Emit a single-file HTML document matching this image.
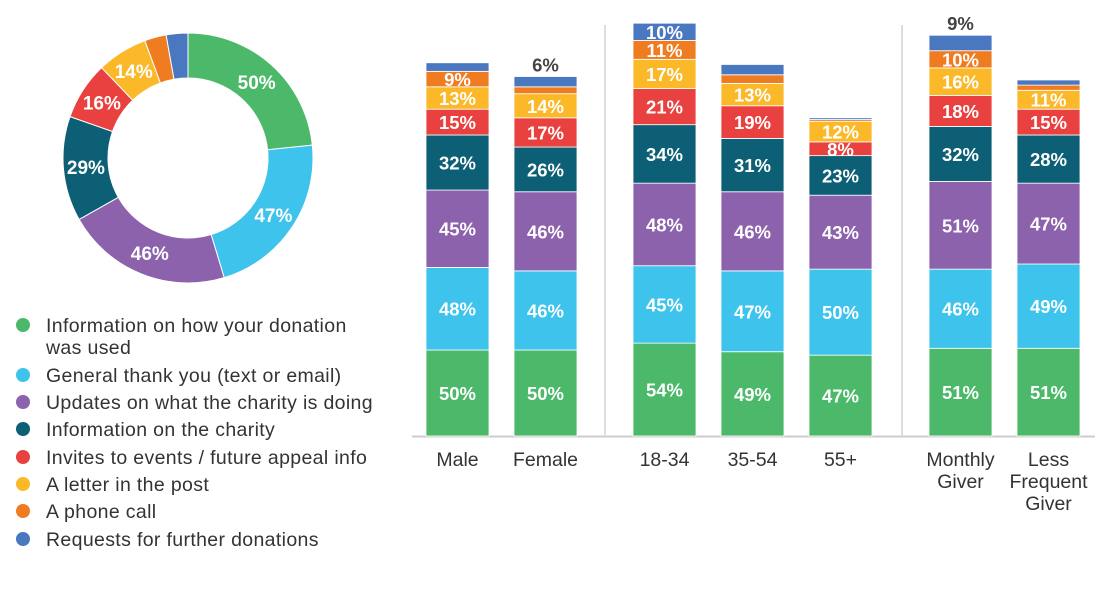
<!DOCTYPE html>
<html><head><meta charset="utf-8"><style>
body{margin:0;background:#fff;width:1103px;height:597px;overflow:hidden;font-family:"Liberation Sans",sans-serif}
svg text{font-family:"Liberation Sans",sans-serif}
</style></head><body>
<svg id="c" width="1103" height="597"></svg>
<script>
const seriesNames=["Information on how your donation|was used","General thank you (text or email)","Updates on what the charity is doing","Information on the charity","Invites to events / future appeal info","A letter in the post","A phone call","Requests for further donations"];
const colors=["#4cb96a","#3ec3ec","#8c62ad","#0d5f75","#e8413f","#fbb829","#f07c22","#4a78c0"];
const donutValues=[50,47,46,29,16,14,6,6];
const donutLabels=["50%","47%","46%","29%","16%","14%","",""];
const categories=["Male","Female","18-34","35-54","55+","Monthly|Giver","Less|Frequent|Giver"];
const green=[50,50,54,49,47,51,51];
const cyan=[48,46,45,47,50,46,49];
const purple=[45,46,48,46,43,51,47];
const teal=[32,26,34,31,23,32,28];
const red=[15,17,21,19,8,18,15];
const yellow=[13,14,17,13,12,16,11];
const orange=[9,4,11,5,1,10,3];
const blue=[5,6,10,6,1,9,3];
const labelShown=[[1,1,1,1,1,1,1,0],[1,1,1,1,1,1,0,2],[1,1,1,1,1,1,1,1],[1,1,1,1,1,1,0,0],[1,1,1,1,1,1,0,0],[1,1,1,1,1,1,1,2],[1,1,1,1,1,1,0,0]];
const series=[green,cyan,purple,teal,red,yellow,orange,blue];

const NS="http://www.w3.org/2000/svg";
const svg=document.getElementById('c');
function mk(t,a,p){const e=document.createElementNS(NS,t);for(const k in a)e.setAttribute(k,a[k]);(p||svg).appendChild(e);return e;}

// donut
const cx=188,cy=158,R=125,r=80;
const tot=donutValues.reduce((a,b)=>a+b,0);
let ang=0;
donutValues.forEach((v,i)=>{
 const a0=ang,a1=ang+v/tot*2*Math.PI;ang=a1;
 const p=(a,rr)=>[cx+rr*Math.sin(a),cy-rr*Math.cos(a)];
 const [x0,y0]=p(a0,R),[x1,y1]=p(a1,R),[x2,y2]=p(a1,r),[x3,y3]=p(a0,r);
 const lg=a1-a0>Math.PI?1:0;
 const s=mk('path',{d:`M${x0},${y0}A${R},${R} 0 ${lg} 1 ${x1},${y1}L${x2},${y2}A${r},${r} 0 ${lg} 0 ${x3},${y3}Z`,fill:colors[i],stroke:'#fff','stroke-width':1});
 
 
 if(donutLabels[i]){const [lx,ly]=p((a0+a1)/2,(R+r)/2);
  const t=mk('text',{x:lx,y:ly+7,'text-anchor':'middle',fill:'#fff','font-size':19,'font-weight':'bold'});t.textContent=donutLabels[i];
  
  }
});

// legend
const legY=[325,375,402,429,457,484,511,539];
seriesNames.forEach((n,i)=>{
 const g=mk('g',{});
 
 
 mk('circle',{cx:23,cy:legY[i],r:7,fill:colors[i]},g);
 n.split('|').forEach((l,j)=>{const t=mk('text',{x:46,y:legY[i]+7+j*22,fill:'#333','font-size':19.5,'textLength':0});t.removeAttribute('textLength');g.appendChild(t);t.setAttribute('style','letter-spacing:0.35px');t.textContent=l;});
});

// bars
const barX=[426,514,633,721,809,929,1017],bw=63,base=436,k=1.72;
const yOf=v=>base-v*k;
mk('line',{x1:412,x2:1095,y1:base+0.5,y2:base+0.5,stroke:'#ccc','stroke-width':2});
[605,902].forEach(x=>{const l=mk('line',{x1:x,x2:x,y1:25,y2:base,stroke:'#ddd','stroke-width':2});});
categories.forEach((c,ci)=>{
 let cum=0;
 series.forEach((s,si)=>{
  const v=s[ci];const y1=yOf(cum),y0=yOf(cum+v);cum+=v;
  const b=mk('rect',{x:barX[ci],y:y0,width:bw,height:y1-y0,fill:colors[si],stroke:'#fff','stroke-width':0.8});
  
  
  const sh=labelShown[ci][si];
  if(sh===1){const t=mk('text',{x:barX[ci]+bw/2,y:(y0+y1)/2+7,'text-anchor':'middle',fill:'#fff','font-size':18.5,'font-weight':'bold'});t.textContent=v+'%';
   
   }
  else if(sh===2){const t=mk('text',{x:barX[ci]+bw/2,y:y0-5,'text-anchor':'middle',fill:'#444','font-size':18.5,'font-weight':'bold'});t.textContent=v+'%';
   
   }
 });
 c.split('|').forEach((l,j)=>{const t=mk('text',{x:barX[ci]+bw/2,y:466+j*22,'text-anchor':'middle',fill:'#333','font-size':19.5});t.textContent=l;
  
  });
});
</script>
</body></html>
